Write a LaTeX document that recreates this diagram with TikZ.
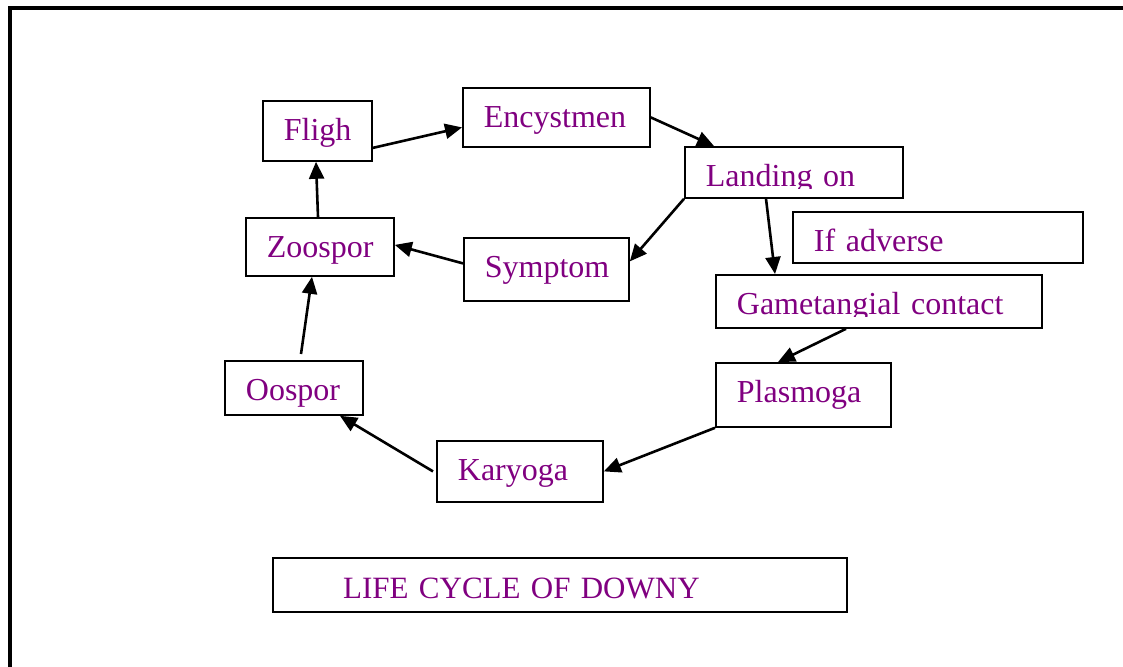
\documentclass[tikz,border=0pt]{standalone}
\usepackage{fontspec}
\setmainfont{Liberation Serif}
\usepackage{xcolor}
\usetikzlibrary{arrows.meta,positioning}
\definecolor{wordpurple}{RGB}{128,0,128}

\begin{document}
\begin{tikzpicture}[
    x=1pt, y=-1pt,
    >={Triangle[length=17pt,width=15pt]},
    box/.style 2 args={draw, line width=1.8pt, anchor=north west,
                inner xsep=21pt, inner ysep=0pt, text height=40pt,
                text width=#1, text depth=#2, align=left,
                font=\fontsize{32}{38}\selectfont, text=wordpurple},
    arr/.style={->, line width=2.6pt},
    hide/.style={fill=white},
  ]
  \useasboundingbox (0,0) rectangle (1123,666);

  % Page frame
  \draw[line width=4pt] (1130,8) -- (10,8) -- (10,680);

  % Cycle boxes
  \node[box={67pt}{20pt}]  (fligh)   at (262,100) {Fligh};
  \node[box={145pt}{19pt}] (encyst)  at (462,87)  {Encystmen};
  \node[box={176pt}{11pt}] (landing) at (684,146) {Landing on};
  \node[box={248pt}{11pt}] (adverse) at (792,211) {If adverse};
  \node[box={284pt}{13pt}] (gamet)   at (715,274) {Gametangial contact};
  \node[box={106pt}{18pt}] (zoospor) at (245,217) {Zoospor};
  \node[box={123pt}{23pt}] (symptom) at (463,237) {Symptom};
  \node[box={96pt}{14pt}]  (oospor)  at (224,360) {Oospor};
  \node[box={133pt}{24pt}] (plasmo)  at (715,362) {Plasmoga};
  \node[box={124pt}{21pt}] (karyo)   at (436,440) {Karyoga};

  % cut-off descenders
  \fill[hide] ([shift={(3pt,3pt)}]landing.south west)
    rectangle ([shift={(-3pt,-2pt)}]landing.base east);
  \fill[hide] ([shift={(3pt,3pt)}]gamet.south west)
    rectangle ([shift={(-3pt,-2pt)}]gamet.base east);

  % Title
  \node[box={532pt}{14pt}, line width=2.4pt,
        font=\fontsize{31}{37}\selectfont] (title) at (272,557)
    {\hspace*{49pt}LIFE CYCLE OF DOWNY};

  % Arrows
  \draw[arr] ([yshift=-17pt]fligh.east) -- ([yshift=-10pt]encyst.west);
  \draw[arr] (encyst.east) -- ([xshift=30pt]landing.north west);
  \draw[arr] (landing.south west) -- ([yshift=8pt]symptom.east);
  \draw[arr] ([xshift=82pt]landing.south west) -- ([xshift=60pt]gamet.north west);
  \draw[arr] ([xshift=131pt]gamet.south west) -- ([xshift=63pt]plasmo.north west);
  \draw[arr] (plasmo.south west) -- (karyo.east);
  \draw[arr] ([xshift=-3pt]karyo.west) -- ([xshift=116pt]oospor.south west);
  \draw[arr] ([shift={(77pt,6pt)}]oospor.north west) -- ([xshift=67pt]zoospor.south west);
  \draw[arr] ([yshift=6pt]symptom.west) -- ([yshift=2pt]zoospor.east);
  \draw[arr] ([xshift=73pt]zoospor.north west) -- ([xshift=54pt]fligh.south west);
\end{tikzpicture}
\end{document}
